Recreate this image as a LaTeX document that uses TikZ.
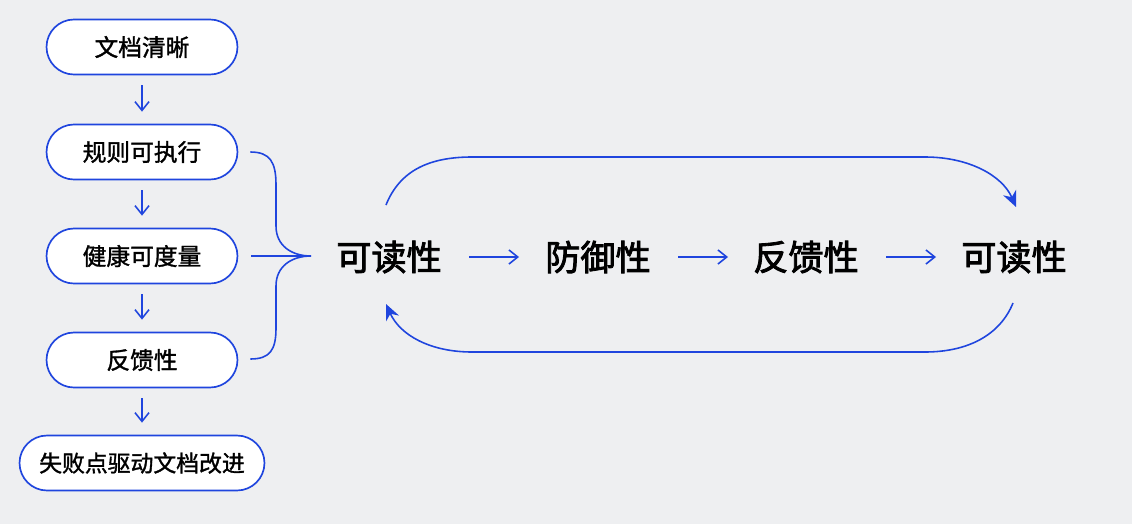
\documentclass[tikz,border=0pt]{standalone}
\usepackage{fontspec}
\usepackage{tikz}
\usetikzlibrary{calc, arrows.meta}
\newfontfamily\cjk[AutoFakeBold=1.4]{Noto Sans CJK SC}
\newfontfamily\cjkheavy[AutoFakeBold=2.4]{Noto Sans CJK SC}
\definecolor{linkblue}{HTML}{1F45DE}
\definecolor{paper}{HTML}{EEEFF1}

\begin{document}
\begin{tikzpicture}[x=0.02cm, y=-0.02cm,
    pill/.style={draw=linkblue, line width=0.95pt, fill=white, rounded corners=0.55cm,
                 minimum width=3.82cm, minimum height=1.1cm, font=\cjk\fontsize{13.5}{16}\selectfont\bfseries},
    stage/.style={font=\cjkheavy\fontsize{20}{24}\selectfont\bfseries},
    link/.style={draw=linkblue, line width=0.9pt},
    step arrow/.style={link, -{Straight Barb[length=5pt, width=8pt]}},
    loop arrow/.style={link, -{Stealth[length=9pt, width=8pt]}}]
    \fill[paper] (0,0) rectangle (1132,524);
    % left column
    \node[pill] (doc)    at (142,47)  {文档清晰};
    \node[pill] (rule)   at (142,152) {规则可执行};
    \node[pill] (health) at (142,256) {健康可度量};
    \node[pill] (fb)     at (142,360) {反馈性};
    \node[pill, minimum width=4.9cm, font=\cjk\fontsize{13}{16}\selectfont\bfseries] (fail) at (142,463) {失败点驱动文档改进};
    \draw[step arrow] ($(doc.south)+(0,10)$)    -- ($(rule.north)+(0,-12)$);
    \draw[step arrow] ($(rule.south)+(0,10)$)   -- ($(health.north)+(0,-12)$);
    \draw[step arrow] ($(health.south)+(0,10)$) -- ($(fb.north)+(0,-12)$);
    \draw[step arrow] ($(fb.south)+(0,10)$)     -- ($(fail.north)+(0,-12)$);
    % main row
    \node[stage] (read)     at (389,257)  {可读性};
    \node[stage] (defend)   at (598,257)  {防御性};
    \node[stage] (feedback) at (806,257)  {反馈性};
    \node[stage] (readend)  at (1014,257) {可读性};
    \draw[step arrow] (read)     ++(80,0) -- ++(50,0);
    \draw[step arrow] (defend)   ++(80,0) -- ++(50,0);
    \draw[step arrow] (feedback) ++(80,0) -- ++(50,0);
    % brace
    \coordinate (tip) at ($(read)+(-78,-1)$);
    \draw[link] ($(rule.east)+(12,0)$) .. controls (270,152) and (276,162) .. (276,185)
        -- (276,226) .. controls (276,246) and (292,256) .. (tip);
    \draw[link] ($(fb.east)+(12,-1)$) .. controls (270,359) and (276,350) .. (276,328)
        -- (276,286) .. controls (276,266) and (292,256) .. (tip);
    \draw[link] ($(health.east)+(13,0)$) -- (tip);
    % loops
    \draw[loop arrow] ($(read)+(-3,-52)$) .. controls (400,170) and (430,157) .. (472,157)
        -- (925,157) .. controls (968,157) and (1002,175) .. ($(readend)+(2,-50)$);
    \draw[loop arrow] ($(readend)+(-1,46)$) .. controls (1000,335) and (968,352) .. (925,352)
        -- (472,352) .. controls (430,352) and (400,335) .. ($(read)+(-3,47)$);
\end{tikzpicture}
\end{document}
